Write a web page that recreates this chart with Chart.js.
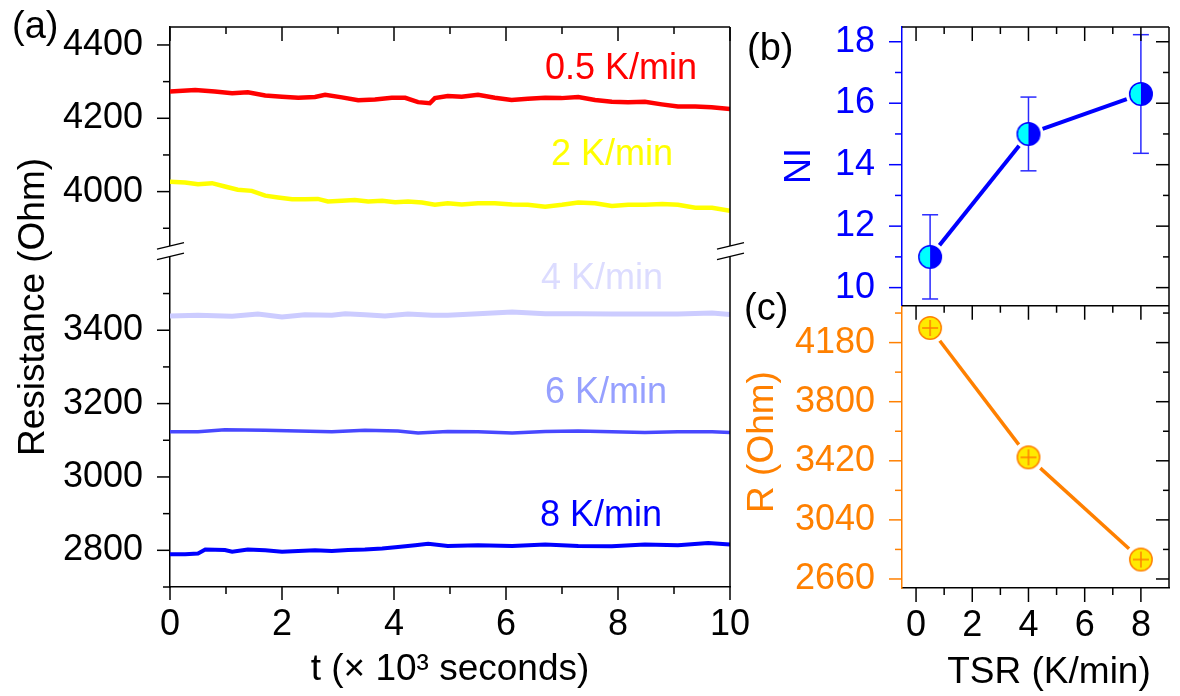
<!DOCTYPE html>
<html>
<head>
<meta charset="utf-8">
<script src="https://cdn.jsdelivr.net/npm/chart.js@4.4.1/dist/chart.umd.min.js"></script>
<style>
  html, body { margin: 0; padding: 0; background: #fff; overflow: hidden; width: 1180px; height: 696px; }
  canvas { position: absolute; top: 0; }
  #resChart { left: 0; }
  #tsrChart { left: 700px; }
</style>
</head>
<body>
<canvas id="resChart" width="760" height="696"></canvas>
<canvas id="tsrChart" width="482" height="696"></canvas>
<script>
const FONT = "'Liberation Sans', Arial, Helvetica, sans-serif";
const ORANGE = "#ff8000";
const BLUE = "#0000ff";

// (a) resistance vs time, t in 10^3 s
const tRed = [0, 0.45, 0.8, 1.11, 1.39, 1.7, 2.0, 2.29, 2.59, 2.77, 3.07, 3.36, 3.66, 3.96, 4.2, 4.43, 4.64, 4.73, 4.96, 5.21, 5.5, 5.8, 6.1, 6.39, 6.7, 6.99, 7.29, 7.59, 7.89, 8.18, 8.48, 8.78, 9.07, 9.38, 9.67, 10];
const rRed = [4273, 4277, 4273, 4268, 4271, 4262, 4259, 4256, 4258, 4264, 4257, 4249, 4251, 4256, 4256, 4244, 4241, 4255, 4261, 4259, 4264, 4256, 4250, 4253, 4256, 4255, 4258, 4250, 4245, 4244, 4245, 4238, 4232, 4232, 4230, 4225];

const tYel = [0, 0.27, 0.5, 0.75, 0.98, 1.21, 1.46, 1.7, 1.93, 2.18, 2.41, 2.64, 2.82, 3.07, 3.3, 3.54, 3.79, 4.02, 4.25, 4.5, 4.73, 4.96, 5.21, 5.5, 5.8, 6.11, 6.39, 6.7, 7.0, 7.29, 7.59, 7.89, 8.18, 8.48, 8.79, 9.07, 9.38, 9.68, 10];
const rYel = [4027, 4025, 4020, 4023, 4014, 4005, 4002, 3989, 3984, 3979, 3979, 3980, 3973, 3975, 3977, 3973, 3975, 3971, 3973, 3970, 3964, 3968, 3965, 3968, 3968, 3965, 3964, 3959, 3964, 3970, 3968, 3961, 3964, 3964, 3966, 3964, 3956, 3956, 3948];

const tLav = [0, 0.5, 1.11, 1.57, 2.0, 2.41, 2.89, 3.13, 3.48, 3.84, 4.25, 4.68, 4.96, 5.5, 6.11, 6.7, 7.29, 7.89, 8.48, 9.07, 9.68, 10];
const rLav = [3439, 3441, 3438, 3444, 3436, 3442, 3441, 3445, 3442, 3439, 3444, 3441, 3441, 3445, 3450, 3445, 3445, 3444, 3444, 3444, 3447, 3443];

const t6 = [0, 0.5, 0.98, 1.7, 2.29, 2.89, 3.48, 4.07, 4.43, 4.96, 5.5, 6.11, 6.7, 7.29, 7.89, 8.48, 9.07, 9.68, 10];
const r6 = [3123, 3123, 3129, 3127, 3125, 3123, 3127, 3125, 3120, 3124, 3123, 3120, 3124, 3125, 3123, 3121, 3123, 3123, 3121];

const t8 = [0, 0.27, 0.5, 0.63, 0.98, 1.11, 1.39, 1.7, 2.0, 2.29, 2.59, 2.89, 3.18, 3.48, 3.79, 4.07, 4.38, 4.61, 4.96, 5.5, 6.11, 6.7, 7.29, 7.89, 8.48, 9.07, 9.61, 10];
const r8 = [2789, 2789, 2791, 2802, 2801, 2796, 2802, 2800, 2796, 2798, 2800, 2798, 2801, 2802, 2805, 2809, 2814, 2818, 2812, 2814, 2812, 2816, 2812, 2811, 2816, 2814, 2820, 2816];

const timeMajor = [0, 2, 4, 6, 8, 10];
const timeMinor = [1, 3, 5, 7, 9];
const resLowMajor = [2800, 3000, 3200, 3400];
const resLowMinor = [2700, 2900, 3100, 3300, 3500];
const resHighMajor = [4000, 4200, 4400];
const resHighMinor = [3900, 4100, 4300];

// (b) NI and (c) R vs temperature sweep rate
const tsr = [0.5, 4, 8];
const ni = [11.0, 15.0, 16.3];
const niErr = [1.37, 1.2, 1.93];
const rTsr = [4274, 3442, 2785];

const tsrMajor = [0, 2, 4, 6, 8];
const tsrMinor = [1, 3, 5, 7];
const niMajor = [10, 12, 14, 16, 18];
const niMinor = [11, 13, 15, 17];
const rMajor = [2660, 3040, 3420, 3800, 4180];
const rMinor = [2850, 3230, 3610, 3990, 4370];

const SERIES = [
  { label: "0.5 K/min", t: tRed, r: rRed, line: "#ff0000", text: "#ff0000", width: 4.5, axis: "yHigh" },
  { label: "2 K/min", t: tYel, r: rYel, line: "#ffff00", text: "#ffff00", width: 4.5, axis: "yHigh" },
  { label: "4 K/min", t: tLav, r: rLav, line: "#ccccff", text: "#dcdcff", width: 5, axis: "yLow" },
  { label: "6 K/min", t: t6, r: r6, line: "#4848ff", text: "#96a0ff", width: 3.5, axis: "yLow" },
  { label: "8 K/min", t: t8, r: r8, line: "#0000ff", text: "#0000ff", width: 4, axis: "yLow" }
];

// where the labels sit (left x, baseline y) in panel (a)
const LABEL_POS = [[545, 79], [551, 165], [541, 289], [545, 403], [540, 526]];

Chart.defaults.font.family = FONT;
Chart.defaults.font.size = 36;
Chart.defaults.color = "#000";

function fixedTicks(values) {
  return scale => { scale.ticks = values.map(v => ({ value: v })); };
}

function fixSize(prop, size) {
  return scale => {
    scale[prop] = size;
    scale.paddingTop = 0;
    scale.paddingBottom = 0;
    scale.paddingLeft = 0;
    scale.paddingRight = 0;
  };
}

function seg(ctx, x1, y1, x2, y2) {
  ctx.beginPath();
  ctx.moveTo(x1, y1);
  ctx.lineTo(x2, y2);
  ctx.stroke();
}

function hTicks(ctx, scale, values, y, len) {
  values.forEach(v => {
    const x = scale.getPixelForValue(v);
    seg(ctx, x, y, x, y + len);
  });
}

function vTicks(ctx, scale, values, x, len) {
  values.forEach(v => {
    const y = scale.getPixelForValue(v);
    seg(ctx, x, y, x + len, y);
  });
}

function axisBreak(ctx, x, y) {
  ctx.save();
  ctx.fillStyle = "#fff";
  ctx.fillRect(x - 3, y - 5, 6, 10);
  ctx.strokeStyle = "#000";
  ctx.lineWidth = 1.3;
  seg(ctx, x - 13, y - 1.8, x + 14, y - 8.3);
  seg(ctx, x - 13, y + 8.7, x + 14, y + 2.2);
  ctx.restore();
}

function rotatedText(ctx, text, x, y, color, size) {
  ctx.save();
  ctx.translate(x, y);
  ctx.rotate(-Math.PI / 2);
  ctx.font = `${size}px ${FONT}`;
  ctx.fillStyle = color;
  ctx.textAlign = "center";
  ctx.textBaseline = "alphabetic";
  ctx.fillText(text, 0, 0);
  ctx.restore();
}

function plainText(ctx, text, x, y, color, size, align) {
  ctx.save();
  ctx.font = `${size}px ${FONT}`;
  ctx.fillStyle = color;
  ctx.textAlign = align || "left";
  ctx.textBaseline = "alphabetic";
  ctx.fillText(text, x, y);
  ctx.restore();
}

const resFrame = {
  id: "resFrame",
  afterDraw(chart) {
    const { ctx, chartArea: ca, scales } = chart;
    const { x, yLow, yHigh } = scales;
    const brk = yHigh.bottom;

    ctx.save();
    ctx.strokeStyle = "#000";
    ctx.lineWidth = 1.5;
    seg(ctx, ca.left, ca.top, ca.right, ca.top);
    seg(ctx, ca.right, ca.top, ca.right, ca.bottom);

    hTicks(ctx, x, timeMajor, ca.bottom, 13);
    hTicks(ctx, x, timeMinor, ca.bottom, 7);
    hTicks(ctx, x, timeMajor, ca.top, 14);
    hTicks(ctx, x, timeMinor, ca.top, 7);

    vTicks(ctx, yLow, resLowMajor, ca.left, -13);
    vTicks(ctx, yLow, resLowMinor, ca.left, -7);
    vTicks(ctx, yHigh, resHighMajor, ca.left, -13);
    vTicks(ctx, yHigh, resHighMinor, ca.left, -7);
    ctx.restore();

    axisBreak(ctx, ca.left, brk);
    axisBreak(ctx, ca.right, brk);

    plainText(ctx, "(a)", 12, 38, "#000", 38);
    rotatedText(ctx, "Resistance (Ohm)", 44, 307, "#000", 37);
    plainText(ctx, "t (\u00d7 10\u00b3 seconds)", 450, 680, "#000", 37, "center");

    SERIES.forEach((s, i) => {
      plainText(ctx, s.label, LABEL_POS[i][0], LABEL_POS[i][1], s.text, 36);
    });
  }
};

new Chart(document.getElementById("resChart"), {
  type: "line",
  data: {
    datasets: SERIES.map(s => ({
      label: s.label,
      data: s.t.map((t, i) => ({ x: t, y: s.r[i] })),
      yAxisID: s.axis,
      borderColor: s.line,
      borderWidth: s.width,
      pointRadius: 0,
      tension: 0
    }))
  },
  options: {
    responsive: false,
    animation: false,
    events: [],
    layout: { padding: { left: 0, right: 30, top: 27, bottom: 0 } },
    plugins: { legend: { display: false }, tooltip: { enabled: false } },
    scales: {
      x: {
        type: "linear",
        min: 0,
        max: 10,
        afterBuildTicks: fixedTicks(timeMajor),
        afterFit: fixSize("height", 109),
        grid: { display: false, drawTicks: false },
        border: { color: "#000", width: 1.5 },
        ticks: { padding: 16, color: "#000", autoSkip: false, maxRotation: 0, callback: v => String(v) }
      },
      yLow: {
        type: "linear",
        position: "left",
        stack: "res",
        stackWeight: 336,
        min: 2700,
        max: 3616,
        afterBuildTicks: fixedTicks(resLowMajor),
        afterFit: fixSize("width", 170),
        grid: { display: false, drawTicks: false },
        border: { color: "#000", width: 1.5 },
        ticks: { padding: 27, color: "#000", autoSkip: false, callback: v => String(v) }
      },
      yHigh: {
        type: "linear",
        position: "left",
        stack: "res",
        stackWeight: 224,
        min: 3838,
        max: 4449,
        afterBuildTicks: fixedTicks(resHighMajor),
        afterFit: fixSize("width", 170),
        grid: { display: false, drawTicks: false },
        border: { color: "#000", width: 1.5 },
        ticks: { padding: 27, color: "#000", autoSkip: false, callback: v => String(v) }
      }
    }
  },
  plugins: [resFrame]
});

// markers for (b) and (c)
function halfMarker() {
  const c = document.createElement("canvas");
  c.width = 28;
  c.height = 28;
  const g = c.getContext("2d");
  const m = 14, r = 11.3;
  g.fillStyle = "#00ffff";
  g.beginPath(); g.arc(m, m, r, Math.PI / 2, Math.PI * 1.5); g.fill();
  g.fillStyle = BLUE;
  g.beginPath(); g.arc(m, m, r, -Math.PI / 2, Math.PI / 2); g.fill();
  g.strokeStyle = BLUE;
  g.lineWidth = 1.5;
  g.beginPath(); g.arc(m, m, r, 0, Math.PI * 2); g.stroke();
  return c;
}

function crossMarker() {
  const c = document.createElement("canvas");
  c.width = 28;
  c.height = 28;
  const g = c.getContext("2d");
  const m = 14, r = 11.2;
  g.fillStyle = "#ffea00";
  g.strokeStyle = ORANGE;
  g.lineWidth = 1.5;
  g.beginPath(); g.arc(m, m, r, 0, Math.PI * 2); g.fill(); g.stroke();
  g.beginPath();
  g.moveTo(m - 8, m); g.lineTo(m + 8, m);
  g.moveTo(m, m - 8); g.lineTo(m, m + 8);
  g.stroke();
  return c;
}

function gappedLine(ctx, xs, ys, xScale, yScale, gap) {
  for (let i = 0; i < xs.length - 1; i++) {
    const x1 = xScale.getPixelForValue(xs[i]), y1 = yScale.getPixelForValue(ys[i]);
    const x2 = xScale.getPixelForValue(xs[i + 1]), y2 = yScale.getPixelForValue(ys[i + 1]);
    const len = Math.hypot(x2 - x1, y2 - y1);
    const ux = (x2 - x1) / len, uy = (y2 - y1) / len;
    seg(ctx, x1 + ux * gap, y1 + uy * gap, x2 - ux * gap, y2 - uy * gap);
  }
}

const tsrFrame = {
  id: "tsrFrame",
  beforeDatasetsDraw(chart) {
    const { ctx, scales } = chart;
    const { x, yB, yC } = scales;
    ctx.save();
    ctx.lineCap = "butt";

    ctx.strokeStyle = "#2a2aff";
    ctx.lineWidth = 1.5;
    tsr.forEach((t, i) => {
      const px = x.getPixelForValue(t);
      const top = yB.getPixelForValue(ni[i] + niErr[i]);
      const bot = yB.getPixelForValue(ni[i] - niErr[i]);
      seg(ctx, px, top, px, bot);
      seg(ctx, px - 8, top, px + 8, top);
      seg(ctx, px - 8, bot, px + 8, bot);
    });

    ctx.strokeStyle = BLUE;
    ctx.lineWidth = 4;
    gappedLine(ctx, tsr, ni, x, yB, 15);

    ctx.strokeStyle = ORANGE;
    ctx.lineWidth = 3.5;
    gappedLine(ctx, tsr, rTsr, x, yC, 16);
    ctx.restore();
  },
  afterDraw(chart) {
    const { ctx, chartArea: ca, scales } = chart;
    const { x, yB, yC } = scales;
    const mid = yB.bottom;

    ctx.save();
    ctx.lineWidth = 1.5;
    ctx.strokeStyle = "#000";
    seg(ctx, ca.left, ca.top, ca.right, ca.top);
    seg(ctx, ca.left, mid, ca.right, mid);
    seg(ctx, ca.right, ca.top, ca.right, ca.bottom);

    hTicks(ctx, x, tsrMajor, ca.top, 14);
    hTicks(ctx, x, tsrMinor, ca.top, 7);
    hTicks(ctx, x, tsrMajor, mid, 14);
    hTicks(ctx, x, tsrMinor, mid, 7);
    hTicks(ctx, x, tsrMajor, ca.bottom, 14);
    hTicks(ctx, x, tsrMinor, ca.bottom, 7);

    vTicks(ctx, yB, niMajor, ca.right, -13);
    vTicks(ctx, yB, niMinor, ca.right, -6);
    vTicks(ctx, yC, rMajor, ca.right, -13);
    vTicks(ctx, yC, rMinor, ca.right, -6);

    ctx.strokeStyle = BLUE;
    vTicks(ctx, yB, niMajor, ca.left, -13);
    vTicks(ctx, yB, niMinor, ca.left, -7);
    ctx.strokeStyle = ORANGE;
    vTicks(ctx, yC, rMajor, ca.left, -13);
    vTicks(ctx, yC, rMinor, ca.left, -7);
    ctx.restore();

    plainText(ctx, "(b)", 47, 60, "#000", 38);
    plainText(ctx, "(c)", 44, 320, "#000", 38);
    rotatedText(ctx, "NI", 110, 166, BLUE, 36);
    rotatedText(ctx, "R (Ohm)", 73, 442, ORANGE, 37);
    plainText(ctx, "TSR (K/min)", 349, 683, "#000", 37, "center");
  }
};

new Chart(document.getElementById("tsrChart"), {
  type: "line",
  data: {
    datasets: [
      {
        label: "NI",
        data: tsr.map((t, i) => ({ x: t, y: ni[i] })),
        yAxisID: "yB",
        showLine: false,
        pointStyle: halfMarker(),
        pointRadius: 12,
        clip: false
      },
      {
        label: "R",
        data: tsr.map((t, i) => ({ x: t, y: rTsr[i] })),
        yAxisID: "yC",
        showLine: false,
        pointStyle: crossMarker(),
        pointRadius: 12,
        clip: false
      }
    ]
  },
  options: {
    responsive: false,
    animation: false,
    events: [],
    layout: { padding: { left: 0, right: 1, top: 27, bottom: 0 } },
    plugins: { legend: { display: false }, tooltip: { enabled: false } },
    scales: {
      x: {
        type: "linear",
        min: -0.5,
        max: 9,
        afterBuildTicks: fixedTicks(tsrMajor),
        afterFit: fixSize("height", 108),
        grid: { display: false, drawTicks: false },
        border: { color: "#000", width: 1.5 },
        ticks: { padding: 16, color: "#000", autoSkip: false, maxRotation: 0, callback: v => String(v) }
      },
      yC: {
        type: "linear",
        position: "left",
        stack: "tsr",
        stackWeight: 282,
        min: 2602,
        max: 4417,
        afterBuildTicks: fixedTicks(rMajor),
        afterFit: fixSize("width", 202),
        grid: { display: false, drawTicks: false },
        border: { color: ORANGE, width: 1.5 },
        ticks: { padding: 27, color: ORANGE, autoSkip: false, callback: v => String(v) }
      },
      yB: {
        type: "linear",
        position: "left",
        stack: "tsr",
        stackWeight: 278.5,
        min: 9.41,
        max: 18.48,
        afterBuildTicks: fixedTicks(niMajor),
        afterFit: fixSize("width", 202),
        grid: { display: false, drawTicks: false },
        border: { color: BLUE, width: 1.5 },
        ticks: { padding: 27, color: BLUE, autoSkip: false, callback: v => String(v) }
      }
    }
  },
  plugins: [tsrFrame]
});
</script>
</body>
</html>
